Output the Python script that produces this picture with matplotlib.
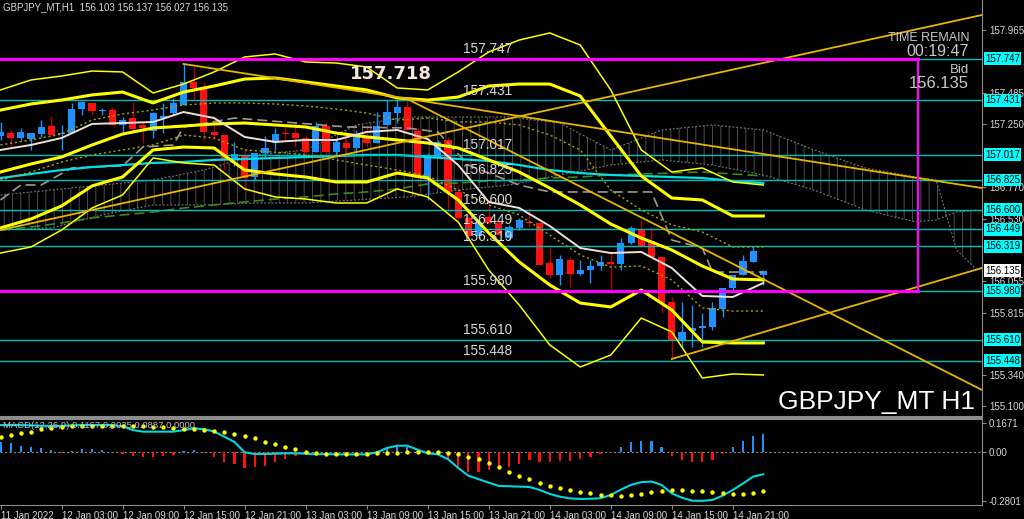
import matplotlib
matplotlib.use('Agg')
import matplotlib.pyplot as plt
import matplotlib.transforms as mtransforms

plt.rcParams['font.family'] = ['Liberation Sans', 'DejaVu Sans']
plt.rcParams['hatch.linewidth'] = 0.7

NARROW = ['Liberation Sans Narrow', 'Liberation Sans', 'DejaVu Sans']

# H1 bars, index 0 = 11 Jan 2022 21:00
opens = [157.161, 157.183, 157.145, 157.138, 157.176, 157.237, 157.176, 157.183, 157.366, 157.412,
         157.351, 157.359, 157.244, 157.298, 157.244, 157.199, 157.298, 157.336, 157.397, 157.572,
         157.526, 157.191, 157.168, 156.978, 157.016, 156.848, 157.031, 157.107, 157.183, 157.183,
         157.145, 157.039, 157.237, 157.039, 157.107, 157.069, 157.145, 157.107, 157.244, 157.336,
         157.381, 157.199, 156.841, 157.001, 157.130, 156.734, 156.536, 156.399, 156.544, 156.498,
         156.384, 156.460, 156.506, 156.498, 156.193, 156.102, 156.216, 156.110, 156.140, 156.170,
         156.201, 156.186, 156.346, 156.445, 156.361, 156.239, 155.896, 155.599, 155.675, 155.698,
         155.706, 155.843, 156.003, 156.102, 156.201, 156.103]
highs = [157.267, 157.206, 157.221, 157.183, 157.282, 157.313, 157.244, 157.412, 157.420, 157.412,
         157.374, 157.381, 157.305, 157.420, 157.267, 157.343, 157.412, 157.450, 157.709, 157.686,
         157.572, 157.260, 157.168, 157.115, 157.054, 157.031, 157.161, 157.221, 157.229, 157.260,
         157.168, 157.267, 157.267, 157.145, 157.145, 157.206, 157.244, 157.343, 157.435, 157.435,
         157.442, 157.229, 157.031, 157.130, 157.153, 156.787, 156.559, 156.521, 156.673, 156.513,
         156.483, 156.536, 156.612, 156.506, 156.330, 156.254, 156.239, 156.216, 156.216, 156.254,
         156.269, 156.384, 156.475, 156.521, 156.467, 156.247, 155.934, 155.896, 155.873, 155.813,
         155.896, 156.003, 156.102, 156.254, 156.315, 156.137]
lows = [157.130, 157.077, 157.130, 157.054, 157.153, 157.168, 157.054, 157.183, 157.321, 157.321,
        157.321, 157.244, 157.191, 157.191, 157.107, 157.145, 157.183, 157.321, 157.397, 157.435,
        157.130, 157.130, 156.902, 156.932, 156.749, 156.825, 156.993, 157.054, 157.130, 157.077,
        156.993, 157.039, 157.016, 157.016, 157.001, 157.031, 157.077, 157.107, 157.244, 157.260,
        157.206, 156.803, 156.673, 156.993, 156.589, 156.521, 156.391, 156.384, 156.490, 156.407,
        156.368, 156.445, 156.467, 156.178, 156.079, 156.026, 156.011, 156.102, 156.041, 156.140,
        155.988, 156.140, 156.338, 156.315, 156.231, 155.813, 155.462, 155.554, 155.554, 155.554,
        155.683, 155.782, 155.988, 156.102, 156.201, 156.027]
closes = [157.191, 157.145, 157.191, 157.183, 157.229, 157.168, 157.183, 157.366, 157.420, 157.351,
          157.359, 157.244, 157.282, 157.214, 157.221, 157.336, 157.313, 157.412, 157.572, 157.526,
          157.191, 157.168, 156.978, 157.023, 156.841, 157.031, 157.069, 157.176, 157.176, 157.145,
          157.039, 157.237, 157.039, 157.115, 157.069, 157.153, 157.107, 157.237, 157.343, 157.381,
          157.206, 156.841, 157.001, 157.115, 156.734, 156.536, 156.399, 156.506, 156.498, 156.407,
          156.467, 156.521, 156.498, 156.178, 156.102, 156.224, 156.110, 156.140, 156.170, 156.201,
          156.186, 156.346, 156.460, 156.323, 156.239, 155.889, 155.607, 155.668, 155.698, 155.714,
          155.851, 156.003, 156.102, 156.209, 156.285, 156.135]

# indicator lines, read every 3 bars
line_idx = [0, 3, 6, 9, 12, 15, 18, 21, 24, 27, 30, 33, 36, 39, 42, 45, 48, 51, 54, 57, 60, 63, 66, 69, 72, 75]
bb3_up = [157.511, 157.587, 157.617, 157.655, 157.648, 157.488, 157.556, 157.648, 157.762, 157.785, 157.724, 157.716, 157.686,
          157.526, 157.511, 157.648, 157.800, 157.891, 157.945, 157.853, 157.511, 157.054, 156.886, 156.917, 156.810, 156.787]
bb2_up = [157.358, 157.404, 157.434, 157.473, 157.495, 157.412, 157.495, 157.541, 157.594, 157.602, 157.572, 157.541, 157.511,
          157.450, 157.434, 157.457, 157.541, 157.556, 157.556, 157.465, 157.160, 156.856, 156.688, 156.673, 156.551, 156.551]
bb_mid = [156.886, 156.947, 157.000, 157.092, 157.175, 157.221, 157.236, 157.252, 157.259, 157.244, 157.229, 157.183, 157.153,
          157.130, 157.107, 157.069, 156.978, 156.886, 156.764, 156.635, 156.490, 156.383, 156.292, 156.170, 156.071, 156.064]
bb2_dn = [156.460, 156.528, 156.627, 156.780, 156.848, 157.054, 157.076, 157.069, 156.901, 156.871, 156.848, 156.810, 156.810,
          156.878, 156.840, 156.673, 156.422, 156.201, 156.026, 155.888, 155.858, 155.987, 155.835, 155.591, 155.584, 155.584]
bb3_dn = [156.269, 156.315, 156.444, 156.612, 156.711, 156.993, 156.955, 156.939, 156.757, 156.696, 156.680, 156.650, 156.650,
          156.757, 156.696, 156.505, 156.140, 155.873, 155.569, 155.401, 155.492, 155.774, 155.668, 155.317, 155.348, 155.340]
bb1_up = [157.092, 157.130, 157.175, 157.282, 157.328, 157.358, 157.396, 157.412, 157.412, 157.404, 157.389, 157.366, 157.335,
          157.282, 157.297, 157.267, 157.267, 157.244, 157.168, 157.054, 156.749, 156.597, 156.483, 156.429, 156.315, 156.315]
bb1_dn = [156.825, 156.886, 156.962, 157.016, 157.054, 157.092, 157.168, 157.145, 157.054, 157.038, 157.016, 156.978, 156.939,
          156.901, 156.856, 156.749, 156.635, 156.559, 156.406, 156.254, 156.162, 156.170, 156.064, 155.850, 155.827, 155.827]
ma_white = [157.054, 157.092, 157.145, 157.252, 157.259, 157.267, 157.343, 157.297, 157.153, 157.115, 157.130, 157.130, 157.191,
            157.206, 157.137, 156.939, 156.658, 156.612, 156.475, 156.307, 156.269, 156.277, 156.155, 155.942, 155.934, 156.041]
ma_cyan = [156.840, 156.871, 156.901, 156.924, 156.939, 156.955, 156.962, 156.978, 156.985, 156.993, 157.000, 157.008, 157.016,
           157.016, 157.000, 156.985, 156.970, 156.939, 156.901, 156.878, 156.863, 156.856, 156.848, 156.840, 156.818, 156.802]
ma_green = [156.444, 156.467, 156.498, 156.536, 156.559, 156.581, 156.612, 156.635, 156.658, 156.680, 156.696, 156.719, 156.734,
            156.757, 156.795, 156.802, 156.818, 156.825, 156.840, 156.848, 156.863, 156.871, 156.878, 156.886, 156.871, 156.856]

kijun_idx = [0, 2, 4, 7, 12, 14, 17, 18, 23, 34, 40, 43, 46, 51, 54, 64, 66, 69, 70, 75]
kijun = [156.673, 156.787, 156.787, 156.917, 156.932, 157.076, 157.092, 157.229, 157.297, 157.229,
         157.221, 157.191, 156.939, 156.787, 156.734, 156.734, 156.368, 156.307, 156.124, 156.124]

cloud_idx = [0, 5, 10, 15, 20, 25, 30, 35, 40, 45, 50, 55, 60, 65, 70, 75, 80, 85, 90, 92, 94, 96]
span_a = [156.711, 156.749, 156.787, 156.825, 156.901, 157.016, 157.054, 157.244, 157.305, 157.305, 157.305,
          157.259, 157.054, 157.206, 157.244, 157.206, 157.054, 156.917, 156.848, 156.825, 156.292, 156.140]
span_b = [156.444, 156.460, 156.559, 156.635, 156.635, 156.650, 156.650, 156.673, 156.696, 156.749, 156.787,
          156.863, 156.939, 156.978, 156.939, 156.863, 156.749, 156.597, 156.505, 156.521, 156.581, 156.597]

# trend lines: (start index, start price, end index, end price)
trend_lines = [(0, 156.444, 96.5, 158.082),
               (18, 157.709, 96.5, 156.764),
               (40, 157.442, 96.5, 155.226),
               (66, 155.462, 96.5, 156.155)]

levels = [157.747, 157.431, 157.017, 156.825, 156.600, 156.449, 156.319, 155.980, 155.610, 155.448]
magenta_levels = [157.747, 155.980]
magenta_end = 90.2
bid = 156.135
axis_ticks = [157.965, 157.485, 157.250, 156.770, 156.530, 156.055, 155.815, 155.340, 155.100]

macd_hist = [0.058, 0.052, 0.038, 0.033, 0.024, 0.014, -0.002, 0.010, 0.020, 0.020,
             0.013, 0.000, -0.010, -0.020, -0.029, -0.025, -0.020, -0.015, 0.008, 0.015,
             -0.006, -0.025, -0.054, -0.067, -0.092, -0.086, -0.077, -0.058, -0.038, -0.019,
             -0.010, -0.004, -0.002, -0.002, -0.002, -0.002, -0.002, 0.010, 0.023, 0.033,
             0.029, 0.010, -0.010, -0.015, -0.044, -0.083, -0.111, -0.115, -0.100, -0.083,
             -0.086, -0.067, -0.044, -0.054, -0.058, -0.048, -0.048, -0.040, -0.025, -0.012,
             -0.002, 0.029, 0.058, 0.067, 0.065, 0.033, -0.019, -0.044, -0.054, -0.058,
             -0.044, -0.012, 0.029, 0.065, 0.094, 0.104]
macd_line = [0.157, 0.157, 0.157, 0.155, 0.153, 0.152, 0.152, 0.155, 0.157, 0.157, 0.157, 0.157, 0.150,
             0.128, 0.119, 0.119, 0.119, 0.119, 0.128, 0.138, 0.133, 0.120, 0.090, 0.060, 0.000,
             -0.010, -0.010, -0.008, -0.006, -0.006, -0.008, -0.012, -0.010, -0.012, -0.012, -0.012, -0.012,
             0.000, 0.025, 0.038, 0.038, 0.015, -0.006, -0.012, -0.040, -0.090, -0.135, -0.155, -0.175,
             -0.194, -0.196, -0.198, -0.200, -0.217, -0.240, -0.256, -0.266, -0.269, -0.268, -0.265, -0.246,
             -0.215, -0.188, -0.172, -0.169, -0.188, -0.237, -0.262, -0.279, -0.280, -0.275, -0.250, -0.217,
             -0.180, -0.140, -0.127]
macd_signal = [0.090, 0.100, 0.110, 0.119, 0.133, 0.142, 0.148, 0.152, 0.154, 0.154, 0.154, 0.154,
               0.154, 0.154, 0.154, 0.148, 0.144, 0.138, 0.134, 0.132, 0.128, 0.123, 0.115, 0.105,
               0.096, 0.081, 0.061, 0.048, 0.029, 0.017, 0.000, -0.006, -0.010, -0.008, -0.012, -0.012,
               -0.012, -0.006, -0.006, -0.002, 0.002, 0.002, 0.002, 0.002, -0.002, -0.012, -0.025, -0.040,
               -0.063, -0.086, -0.112, -0.135, -0.152, -0.175, -0.192, -0.204, -0.219, -0.229, -0.236, -0.244,
               -0.246, -0.250, -0.246, -0.238, -0.229, -0.221, -0.217, -0.217, -0.221, -0.223, -0.227, -0.235,
               -0.242, -0.242, -0.235, -0.221]

time_idx = [0, 6, 12, 18, 24, 30, 36, 42, 48, 54, 60, 66, 72]
time_labels = ['11 Jan 2022', '12 Jan 03:00', '12 Jan 09:00', '12 Jan 15:00', '12 Jan 21:00',
               '13 Jan 03:00', '13 Jan 09:00', '13 Jan 15:00', '13 Jan 21:00', '14 Jan 03:00',
               '14 Jan 09:00', '14 Jan 15:00', '14 Jan 21:00']

BLUE, RED = '#1e90ff', '#ff1010'
YELLOW = '#ffff00'
LEVEL_C = '#00bcbc'
TXT = '#d8d8d8'
GRID_C = '#8c8c8c'

fig = plt.figure(figsize=(10.24, 5.19), dpi=100, facecolor='black')
ax = fig.add_axes([0, 102 / 519, 982 / 1024, 417 / 519], facecolor='black')
ax2 = fig.add_axes([0, 14 / 519, 982 / 1024, 86 / 519], facecolor='black')

ax.set_xlim(-0.05, 96.5)
ax.set_ylim(155.020, 158.196)

# ichimoku cloud
ax.fill_between(cloud_idx, span_a, span_b, facecolor='none', edgecolor='#4c4c4c', hatch='||', lw=0, zorder=1)
ax.plot(cloud_idx, span_a, color='#707070', lw=0.9, ls=(0, (1.5, 1.5)), zorder=1.2)
ax.plot(cloud_idx, span_b, color='#707070', lw=0.9, ls=(0, (1.5, 1.5)), zorder=1.2)

# candles
for i, (o, h, l, c) in enumerate(zip(opens, highs, lows, closes)):
    up = c >= o
    ax.vlines(i, l, h, color=BLUE if up else '#b00000', lw=1, zorder=2)
    ax.bar(i, max(abs(c - o), 0.005), bottom=min(o, c), width=0.7,
           color=BLUE if up else RED, zorder=2.1)

# moving averages
ax.plot(line_idx, ma_green, color='#3a8a1a', lw=1.2, ls=(0, (6, 3)), zorder=2.5)
ax.plot(kijun_idx, kijun, color='#a09890', lw=1.2, ls=(0, (6, 3)), zorder=2.5)
ax.plot(line_idx, ma_cyan, color='#00e0e8', lw=1.6, zorder=2.6)

# horizontal levels
for lvl in levels:
    ax.axhline(lvl, color=LEVEL_C, lw=1.0, zorder=2.7)

# bollinger bands (1 sigma dotted, 2 sigma thick, 3 sigma thin)
for band in (bb1_up, bb1_dn):
    ax.plot(line_idx, band, color='#a8a800', lw=1.0, ls=(0, (1.5, 2)), zorder=2.8)
for band in (bb3_up, bb3_dn):
    ax.plot(line_idx, band, color=YELLOW, lw=1.1, zorder=3)
for band in (bb2_up, bb_mid, bb2_dn):
    ax.plot(line_idx, band, color=YELLOW, lw=2.2, zorder=3)
ax.plot(line_idx, ma_white, color='#efe0d6', lw=1.4, zorder=3.2)

# trend lines
for x0, y0, x1, y1 in trend_lines:
    ax.plot([x0, x1], [y0, y1], color='#e8b400', lw=1.3, zorder=3.3)

# magenta range box
for lvl in magenta_levels:
    ax.plot([-0.05, magenta_end], [lvl, lvl], color='#ff00ff', lw=2.2, zorder=3.5)
ax.plot([magenta_end, magenta_end], magenta_levels, color='#ff00ff', lw=1.6, zorder=3.5)

# level labels
for lvl in levels:
    ax.annotate(f'{lvl:.3f}', (45.5, lvl), xytext=(0, 2), textcoords='offset points',
                color=TXT, fontsize=9.8, va='bottom', ha='left', zorder=5)
ax.text(34.4, 157.632, '157.718', color='#f6e8d8', fontsize=13, fontweight='bold',
        family='DejaVu Sans', va='center', ha='left', zorder=5)

# right price axis
ax.yaxis.tick_right()
ax.set_yticks(axis_ticks)
ax.set_yticklabels([f'{t:.3f}' for t in axis_ticks], family=NARROW)
ax.tick_params(axis='y', colors=GRID_C, labelcolor=TXT, labelsize=7, length=3, pad=2)
ax.tick_params(axis='x', bottom=False, labelbottom=False)
for side in ('top', 'left'):
    ax.spines[side].set_visible(False)
ax.spines['right'].set_color(GRID_C)
ax.spines['bottom'].set_color(GRID_C)
ax.spines['bottom'].set_linewidth(1.5)

trans = mtransforms.blended_transform_factory(ax.transAxes, ax.transData)
for lvl in levels:
    ax.text(1.0 + 3 / 982, lvl, f'{lvl:.3f}', transform=trans, ha='left', va='center', fontsize=7,
            family=NARROW, color='black', bbox=dict(boxstyle='square,pad=0.15', fc='#00ffff', ec='none'),
            clip_on=False, zorder=10)
ax.text(1.0 + 3 / 982, bid, f'{bid:.3f}', transform=trans, ha='left', va='center', fontsize=7,
        family=NARROW, color='black', bbox=dict(boxstyle='square,pad=0.15', fc='white', ec='none'),
        clip_on=False, zorder=10)

# chart texts
fig.text(3 / 1024, 1 - 7 / 519, 'GBPJPY_MT,H1  156.103 156.137 156.027 156.135',
         color=TXT, fontsize=7, va='center', ha='left')
fig.text(969 / 1024, 1 - 38 / 519, 'TIME REMAIN', color='#c8c8c8', fontsize=9, va='center', ha='right')
fig.text(969 / 1024, 1 - 51 / 519, '00:19:47', color='#c8c8c8', fontsize=11.5, va='center', ha='right')
fig.text(969 / 1024, 1 - 70 / 519, 'Bid', color='#c8c8c8', fontsize=9.5, va='center', ha='right')
fig.text(969 / 1024, 1 - 84 / 519, '156.135', color='#c8c8c8', fontsize=12, va='center', ha='right')
fig.text(975 / 1024, 1 - 402 / 519, 'GBPJPY_MT H1', color='white', fontsize=19, va='center', ha='right')

# MACD panel
xs = list(range(len(macd_hist)))
ax2.set_xlim(-0.05, 96.5)
ax2.set_ylim(-0.304, 0.192)
ax2.axhline(0, color='#8a8a8a', lw=0.8, ls=(0, (2, 2)), zorder=1)
ax2.bar(xs, macd_hist, width=0.22, color=[BLUE if v >= 0 else RED for v in macd_hist], zorder=2)
ax2.plot(xs, macd_line, color='#00d8e0', lw=1.5, zorder=3)
ax2.scatter(xs, macd_signal, s=10, color=YELLOW, zorder=4, linewidths=0)
ax2.text(3 / 982, 0.93, 'MACD(12,26,9) 0.1167 0.2035 0.0887 0.0000', transform=ax2.transAxes,
         color='#c0c0c0', fontsize=6.8, va='center', ha='left', zorder=5)

ax2.yaxis.tick_right()
ax2.set_yticks([0.1671, 0.0, -0.2801])
ax2.set_yticklabels(['0.1671', '0.00', '-0.2801'], family=NARROW)
ax2.tick_params(axis='y', colors=GRID_C, labelcolor=TXT, labelsize=7, length=3, pad=2)
ax2.set_xticks(time_idx)
ax2.set_xticklabels(time_labels, ha='left', family=NARROW)
ax2.tick_params(axis='x', colors=GRID_C, labelcolor=TXT, labelsize=7, length=3, pad=1)
ax2.spines['left'].set_visible(False)
for side in ('top', 'right', 'bottom'):
    ax2.spines[side].set_color(GRID_C)
ax2.spines['top'].set_linewidth(1.5)

fig.savefig('out.png', dpi=100, facecolor='black')
